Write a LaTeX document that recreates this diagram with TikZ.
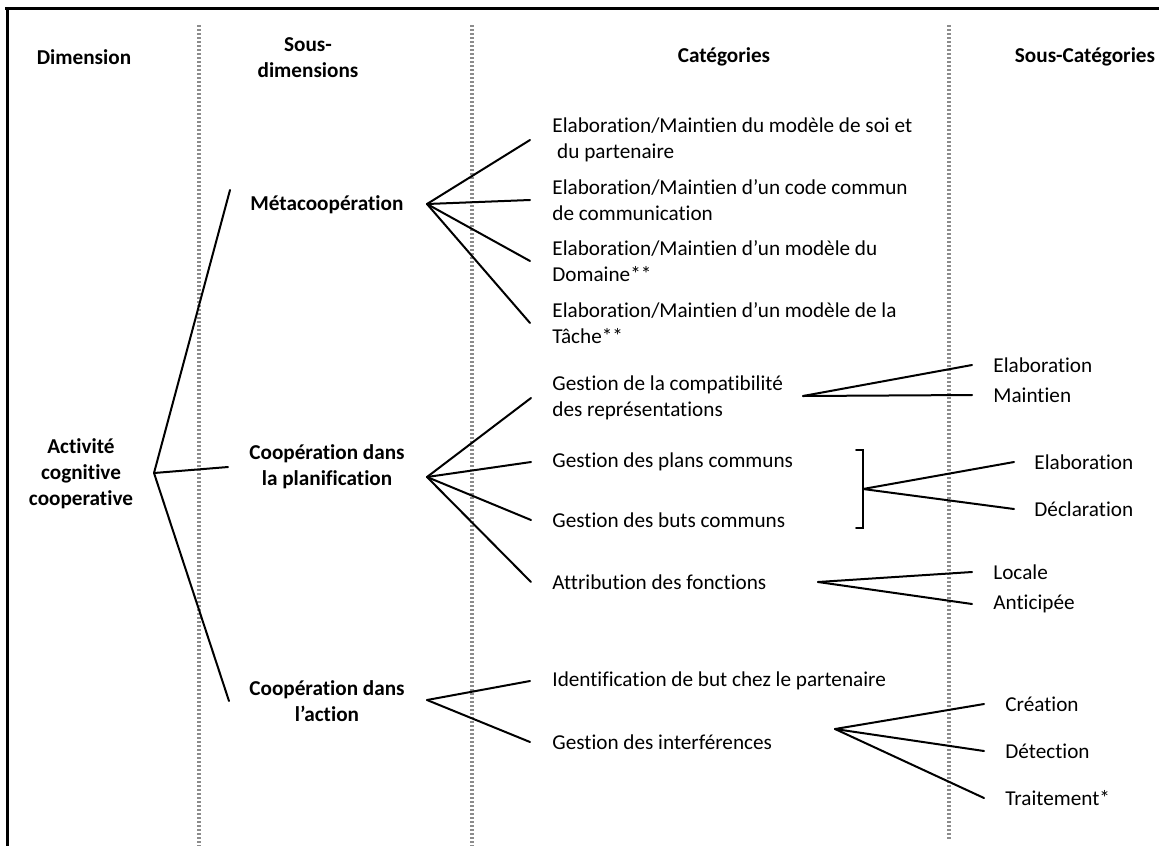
\documentclass[tikz,border=0pt]{standalone}
\usepackage{fontspec}
\setmainfont{Carlito}[Ligatures=NoCommon]
\usepackage{tikz}
\usetikzlibrary{calc}
\definecolor{dotgray}{HTML}{8C8C8C}
\tikzstyle{headbox} = [font=\bfseries, align=center, inner sep=0pt]
\tikzstyle{dimbox} = [font=\bfseries, align=center, inner sep=0pt]
\tikzstyle{subbox} = [font=\bfseries, align=center, inner sep=0pt]
\tikzstyle{catbox} = [anchor=west, align=left, inner sep=0pt]
\tikzstyle{leafbox} = [anchor=west, inner sep=0pt]
\tikzstyle{branch} = [line width=1pt, line cap=round]
\tikzstyle{colsep} = [dotgray, line width=1.6pt, dash pattern=on 1pt off 1pt]
\tikzstyle{frameline} = [line width=1.5pt]

\begin{document}
\fontsize{10.6}{13}\selectfont
\begin{tikzpicture}[x=0.5pt, y=-0.5pt]
  \useasboundingbox (0,0) rectangle (1159,846);

  % === FRAME AND COLUMNS ===
  \draw[frameline] (5,8) -- (1159,8);
  \draw[frameline] (7,8) -- (7,846);
  \draw[colsep] (199,25) -- (199,846);
  \draw[colsep] (472,25) -- (472,846);
  \draw[colsep] (949,25) -- (949,840);

  % === HEADERS ===
  \node (hdim) [headbox] at (84,57) {Dimension};
  \node (hsub) [headbox] at (308,58) {Sous-\\dimensions};
  \node (hcat) [headbox] at (724,57) {Catégories};
  \node (hsubcat) [headbox] at (1085,57) {Sous-Catégories};

  % === DIMENSION ===
  \node (act) [dimbox] at (81,474) {Activité\\cognitive\\cooperative};
  \coordinate (acthub) at (154,473);

  % === SOUS-DIMENSIONS ===
  \node (meta) [subbox, anchor=west] at (250,205) {Métacoopération};
  \node (plan) [subbox] at (327,467) {Coopération dans\\la planification};
  \node (action) [subbox] at (327,701) {Coopération dans\\l’action};
  \coordinate (metahub) at (427,204);
  \coordinate (planhub) at (427,477);
  \coordinate (actionhub) at (427,700);

  % === CATEGORIES ===
  \node (c1) [catbox] at (552,140) {Elaboration/Maintien du modèle de soi et\\\ du partenaire};
  \node (c2) [catbox] at (552,200) {Elaboration/Maintien d’un code commun\\de communication};
  \node (c3) [catbox] at (552,261) {Elaboration/Maintien d’un modèle du\\Domaine**};
  \node (c4) [catbox] at (552,323) {Elaboration/Maintien d’un modèle de la\\Tâche**};
  \node (c5) [catbox] at (552,398) {Gestion de la compatibilité\\des représentations};
  \node (c6) [catbox] at (552,462) {Gestion des plans communs};
  \node (c7) [catbox] at (552,520) {Gestion des buts communs};
  \node (c8) [catbox] at (552,582) {Attribution des fonctions};
  \node (c9) [catbox] at (552,681) {Identification de but chez le partenaire};
  \node (c10) [catbox] at (552,742) {Gestion des interférences};
  \coordinate (compathub) at (803,396);
  \coordinate (commonhub) at (863,489);
  \coordinate (attrhub) at (818,582);
  \coordinate (interfhub) at (835,729);

  % === SOUS-CATEGORIES ===
  \node (s1) [leafbox] at (993,365) {Elaboration};
  \node (s2) [leafbox] at (993,395) {Maintien};
  \node (s3) [leafbox] at (1034,462) {Elaboration};
  \node (s4) [leafbox] at (1034,509) {Déclaration};
  \node (s5) [leafbox] at (993,572) {Locale};
  \node (s6) [leafbox] at (993,604) {Anticipée};
  \node (s7) [leafbox] at (1005,704) {Création};
  \node (s8) [leafbox] at (1005,751) {Détection};
  \node (s9) [leafbox] at (1005,798) {Traitement*};

  % === BRANCHES ===
  \draw[branch] (acthub) -- ([shift={(-20,-15)}]meta.west);
  \draw[branch] (acthub) -- ([xshift=-10.5pt]plan.west);
  \draw[branch] (acthub) -- ([xshift=-10pt]action.west);

  \foreach \c in {c1,c2,c3,c4}
    \draw[branch] (metahub) -- ([xshift=-11pt]\c.west);
  \foreach \c in {c5,c6,c7,c8}
    \draw[branch] (planhub) -- ([xshift=-10.5pt]\c.west);
  \foreach \c in {c9,c10}
    \draw[branch] (actionhub) -- ([xshift=-11pt]\c.west);

  \draw[branch] (856,450) -- (863,450) -- (863,528) -- (856,528);

  \foreach \s in {s1,s2}
    \draw[branch] (compathub) -- ([xshift=-10.5pt]\s.west);
  \foreach \s in {s3,s4}
    \draw[branch] (commonhub) -- ([xshift=-10pt]\s.west);
  \foreach \s in {s5,s6}
    \draw[branch] (attrhub) -- ([xshift=-10.5pt]\s.west);
  \foreach \s in {s7,s8,s9}
    \draw[branch] (interfhub) -- ([xshift=-10.5pt]\s.west);

\end{tikzpicture}
\end{document}
